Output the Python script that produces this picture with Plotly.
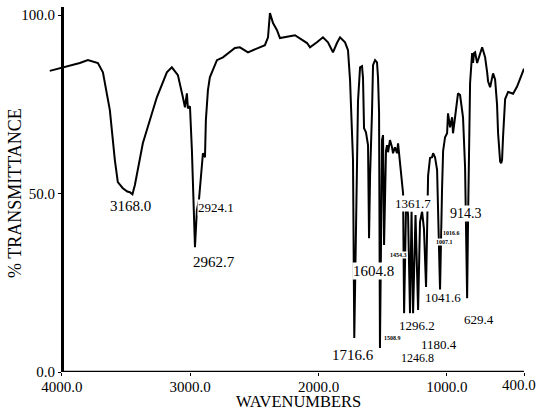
import plotly.graph_objects as go

# IR spectrum values (wavenumber cm^-1, % transmittance)
wavenumber = [
    4094, 4000, 3860, 3797, 3719, 3680, 3626, 3587, 3564, 3525, 3490, 3470, 3450, 3431, 3369,
    3260, 3182, 3143, 3096, 3057, 3041, 3026, 3018, 3002, 2987, 2963, 2948, 2932, 2909, 2901,
    2885, 2878, 2862, 2847, 2792, 2745, 2652, 2613, 2550, 2457, 2418, 2394, 2379, 2355, 2324,
    2301, 2184, 2090, 2067, 2013, 1966, 1927, 1888, 1857, 1833, 1794, 1771, 1755, 1748, 1732,
    1722, 1709, 1701, 1693, 1677, 1662, 1654, 1646, 1631, 1623, 1615, 1607, 1599, 1584, 1576,
    1560, 1545, 1537, 1529, 1522, 1506, 1498, 1490, 1475, 1467, 1459, 1444, 1428, 1420, 1405,
    1389, 1381, 1366, 1350, 1342, 1334, 1319, 1311, 1303, 1288, 1276, 1264, 1245, 1225, 1210,
    1194, 1179, 1163, 1147, 1132, 1116, 1108, 1093, 1077, 1069, 1054, 1038, 1030, 1015, 999,
    992, 976, 960, 953, 937, 914, 898, 875, 859, 851, 843, 835, 828, 820, 804,
    797, 789, 781, 765, 758, 742, 726, 719, 703, 687, 680, 664, 648, 641, 625,
    610, 602, 586, 578, 571, 563, 547, 524, 485, 454, 415, 400,
]
transmittance = [
    84.4, 85.2, 86.6, 87.4, 86.6, 84.0, 73.4, 59.4, 53.2, 51.5, 50.6, 50.4, 49.8, 52.4, 64.1,
    77.0, 84.0, 85.4, 83.2, 77.0, 74.2, 78.1, 73.9, 74.5, 62.2, 35.0, 45.4, 48.2, 59.4, 61.3,
    60.2, 70.6, 79.0, 82.6, 87.4, 88.2, 90.8, 91.0, 89.6, 91.0, 91.6, 93.8, 100.6, 97.8, 95.8,
    93.6, 94.4, 92.2, 91.0, 92.4, 93.8, 92.4, 89.6, 92.2, 93.8, 92.4, 90.2, 81.8, 76.2, 59.4,
    9.5, 40.0, 62.0, 76.0, 85.4, 85.7, 82.4, 68.3, 67.2, 65.0, 63.6, 37.5, 55.0, 72.8, 86.0,
    87.4, 86.8, 82.4, 72.8, 6.7, 65.0, 66.4, 35.6, 62.0, 63.6, 61.6, 65.0, 63.0, 61.3, 63.0,
    61.3, 64.1, 58.5, 53.8, 50.1, 16.5, 46.0, 47.0, 44.0, 16.5, 45.0, 16.5, 44.0, 17.4, 42.0,
    45.0, 40.0, 23.8, 55.0, 60.0, 60.2, 61.3, 60.2, 56.6, 47.3, 23.0, 51.8, 62.0, 65.8, 66.9,
    72.5, 68.6, 71.4, 66.9, 71.4, 78.1, 77.6, 71.4, 57.4, 40.0, 20.7, 45.0, 60.0, 81.0, 89.4,
    86.6, 89.4, 89.6, 86.6, 87.5, 89.4, 91.0, 90.2, 88.2, 84.0, 81.5, 79.8, 82.6, 83.7, 82.0,
    75.0, 67.0, 59.0, 58.5, 59.4, 66.0, 76.5, 78.5, 78.0, 80.0, 84.0, 85.0,
]

# Peak labels as printed on the chart
peak_text = ["3168.0", "2924.1", "2962.7", "1604.8", "1716.6", "1361.7", "914.3",
             "1296.2", "1041.6", "629.4", "1180.4", "1246.8"]
peak_x = [3469, 2799, 2815, 1576, 1732, 1265, 852, 1234, 1031, 751, 1062, 1226]
peak_y = [46.5, 46.2, 30.8, 28.3, 4.8, 47.1, 44.3, 12.9, 21.0, 14.6, 7.6, 3.9]
peak_size = [15, 13, 15, 15, 15, 13, 14, 13, 13, 13, 13, 12]

small_text = ["1508.9", "1454.3", "1016.6", "1007.1"]
small_x = [1421, 1374, 961, 1023]
small_y = [9.5, 32.8, 39.0, 36.4]

x_ticks = [4000, 3000, 2000, 1000, 400]
x_ticktext = ["4000.0", "3000.0", "2000.0", "1000.0", "400.0"]
y_ticks = [0, 50, 100]
y_ticktext = ["0.0", "50.0", "100.0"]

X_RANGE = [4100, 400]
Y_RANGE = [0, 102.3]
FONT = "Liberation Serif"

fig = go.Figure()
fig.add_trace(go.Scatter(x=wavenumber, y=transmittance, mode="lines",
                         line=dict(color="black", width=2), hoverinfo="skip"))

annotations = []
for t, x, y, s in zip(peak_text, peak_x, peak_y, peak_size):
    annotations.append(dict(x=x, y=y, xref="x", yref="y", text=t, showarrow=False,
                            font=dict(family=FONT, size=s, color="black"),
                            bgcolor="white", borderpad=0))
for t, x, y in zip(small_text, small_x, small_y):
    annotations.append(dict(x=x, y=y, xref="x", yref="y", text="<b>" + t + "</b>",
                            showarrow=False, font=dict(family=FONT, size=6, color="black"),
                            bgcolor="white", borderpad=0))
# last x tick label sits just inside the right edge (as in the original print)
annotations.append(dict(x=x_ticks[-1], y=0, xref="x", yref="y", text=x_ticktext[-1],
                        showarrow=False, xanchor="center", yanchor="top", xshift=-5, yshift=-3,
                        font=dict(family=FONT, size=15, color="black")))
annotations.append(dict(x=0.525, y=-0.1123, xref="paper", yref="paper", text="WAVENUMBERS",
                        showarrow=False, xanchor="center", yanchor="bottom",
                        font=dict(family=FONT, size=16.5, color="black")))
annotations.append(dict(x=-0.072, y=0.49, xref="paper", yref="paper", text="% TRANSMITTANCE",
                        showarrow=False, textangle=-90, xanchor="center", yanchor="middle",
                        font=dict(family=FONT, size=18, color="black")))

yaxis_pos = (X_RANGE[0] - x_ticks[0]) / (X_RANGE[0] - X_RANGE[1])
axis_ticktext = x_ticktext[:-1] + [""]

fig.update_layout(
    width=539, height=413,
    margin=dict(l=49, r=15, t=7, b=41, autoexpand=False),
    paper_bgcolor="white", plot_bgcolor="white",
    showlegend=False,
    annotations=annotations,
    shapes=[dict(type="line", xref="x", yref="y", x0=x_ticks[0], x1=x_ticks[-1], y0=0, y1=0,
                 line=dict(color="black", width=2.5))],
    xaxis=dict(range=X_RANGE, showgrid=False, zeroline=False, showline=False,
               tickvals=x_ticks, ticktext=axis_ticktext, ticks="outside", ticklen=3,
               ticklabelstandoff=-2, automargin=False,
               tickcolor="black", tickfont=dict(family=FONT, size=15, color="black")),
    yaxis=dict(range=Y_RANGE, showgrid=False, zeroline=False, showline=True,
               linecolor="black", linewidth=2.5, anchor="free", position=yaxis_pos,
               tickvals=y_ticks, ticktext=y_ticktext, ticks="outside", ticklen=3,
               tickcolor="black", tickfont=dict(family=FONT, size=15, color="black")),
)

fig.write_html("out.html", config={"displayModeBar": False},
               post_script="document.body.style.margin='0px';document.body.style.overflow='hidden';")
